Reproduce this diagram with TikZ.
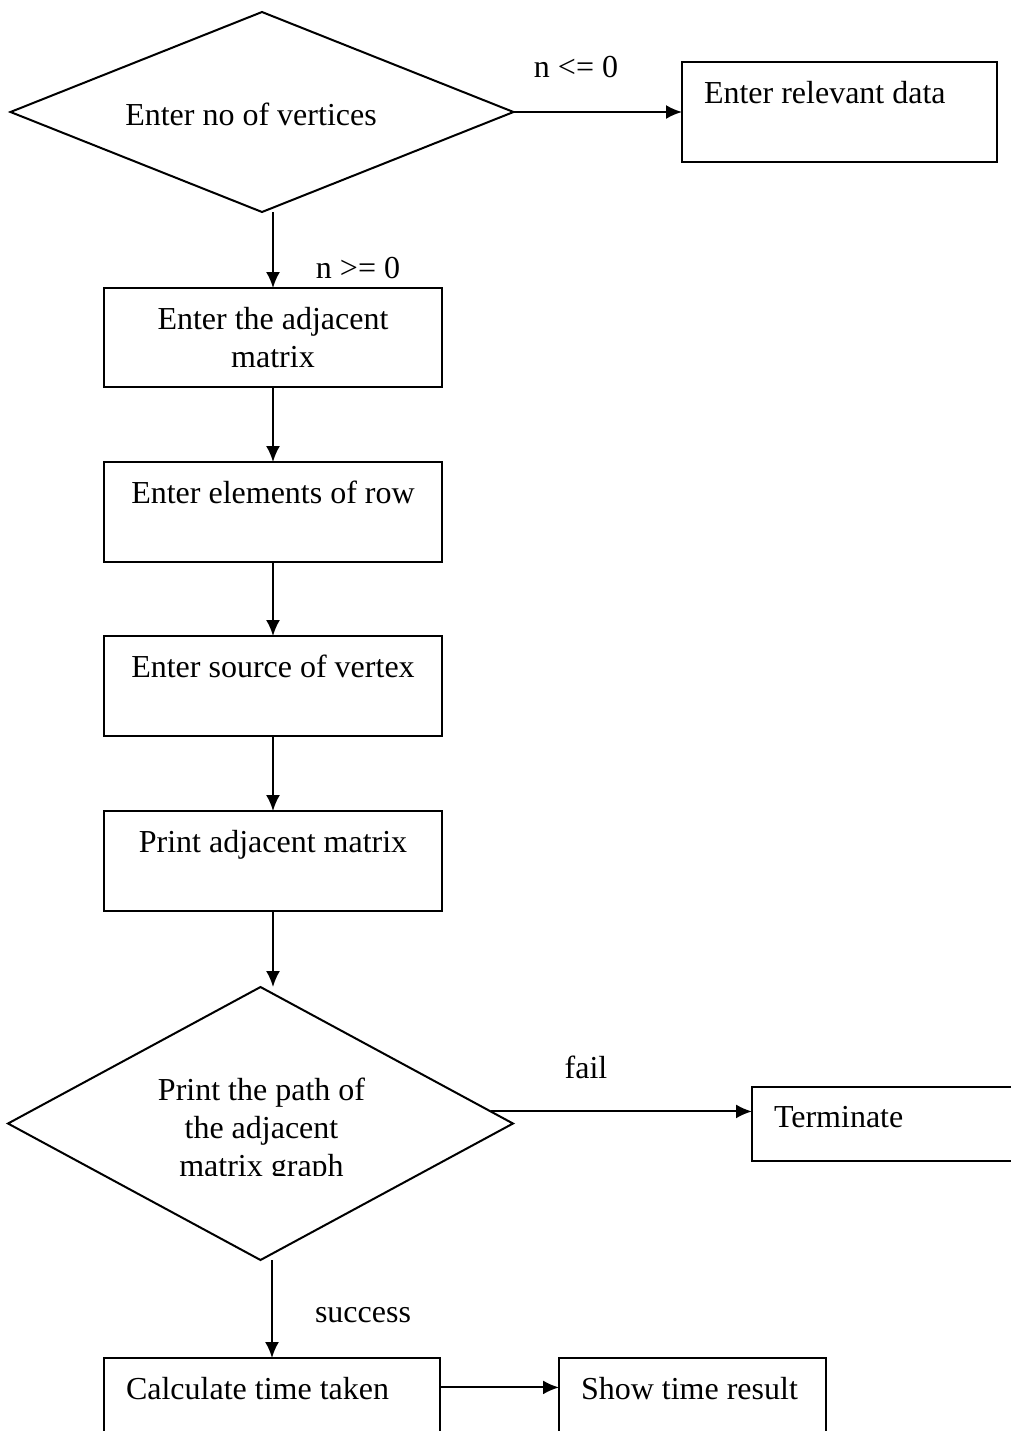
\documentclass[tikz,border=0pt]{standalone}
\usepackage{fontspec}
\setmainfont{Liberation Serif}
\usetikzlibrary{shapes.geometric,arrows.meta}
\tikzset{
  basefont/.style={font=\fontsize{16}{19}\selectfont},
  decision/.style={diamond, draw, line width=1pt, inner sep=2pt, outer sep=0pt, align=center, basefont},
  topbox/.style={draw, line width=1pt, inner xsep=0pt, inner ysep=0pt, outer sep=0pt, text height=20.5pt, basefont},
  leftbox/.style={topbox, inner xsep=11pt, align=flush left},
  conn/.style={line width=1pt, -{Latex[length=8pt,width=7pt]}},
  lbl/.style={basefont, inner sep=0pt}
}
\begin{document}
\begin{tikzpicture}[x=0.5pt,y=-0.5pt]
\path[use as bounding box, fill=white] (0,0) rectangle (1011,1431);
\clip (0,0) rectangle (1011,1431);

% decisions
\node[decision, aspect=2.5, minimum width=251.5pt, minimum height=100pt] (d1) at (262,112) {};
\node[lbl] (d1txt) at (251,114) {Enter no of vertices};
\node[decision, aspect=1.85, minimum width=252.5pt, minimum height=136.5pt] (d2) at (260.5,1123.5) {};
\begin{scope}
  \clip (0,987) rectangle (1011,1175);
  \node[lbl, align=center] (d2txt) at (261.5,1131) {Print the path of\\the adjacent\\matrix graph};
\end{scope}

% process boxes
\node[draw, line width=1pt, outer sep=0pt, inner sep=0pt, minimum width=169pt, minimum height=49.5pt, text width=169pt, align=flush center, basefont] (b1) at (273,337.5) {Enter the adjacent\\matrix};
\node[topbox, text width=169pt, align=flush center, text depth=29.5pt] (b2) at (273,512) {Enter elements of row};
\node[topbox, text width=169pt, align=flush center, text depth=29.5pt] (b3) at (273,686) {Enter source of vertex};
\node[topbox, text width=169pt, align=flush center, text depth=29.5pt] (b4) at (273,861) {Print adjacent matrix};
\node[leftbox, text width=135.5pt, text depth=29.5pt] (rel) at (839.5,112) {Enter relevant data};
\node[leftbox, text width=132pt, text height=20pt, text depth=17pt] (term) at (906,1124) {Terminate};
\node[leftbox, text width=146pt, text depth=29.5pt] (calc) at (272,1408) {Calculate time taken};
\node[leftbox, text width=111.5pt, text depth=29.5pt] (show) at (692.5,1408) {Show time result};

% labels
\node[lbl] (lneg) at (576,67) {n <= 0};
\node[lbl] (lpos) at (358,268) {n >= 0};
\node[lbl] (lfail) at (586,1067) {fail};
\node[lbl] (lsucc) at (363,1315) {success};

% connectors
\draw[conn] (d1.east) -- (d1.east -| rel.west);
\draw[conn] (b1.north |- d1.south) -- (b1.north);
\draw[conn] (b1.south) -- (b2.north);
\draw[conn] (b2.south) -- (b3.north);
\draw[conn] (b3.south) -- (b4.north);
\draw[conn] (b4.south) -- (b4.south |- d2.north);
\draw[conn] (d2.3) -- (d2.3 -| term.west);
\draw[conn] (calc.north |- d2.south) -- (calc.north);
\draw[conn] ([yshift=3.5pt]calc.mid east) -- ([yshift=3.5pt]calc.mid east -| show.west);
\end{tikzpicture}
\end{document}
